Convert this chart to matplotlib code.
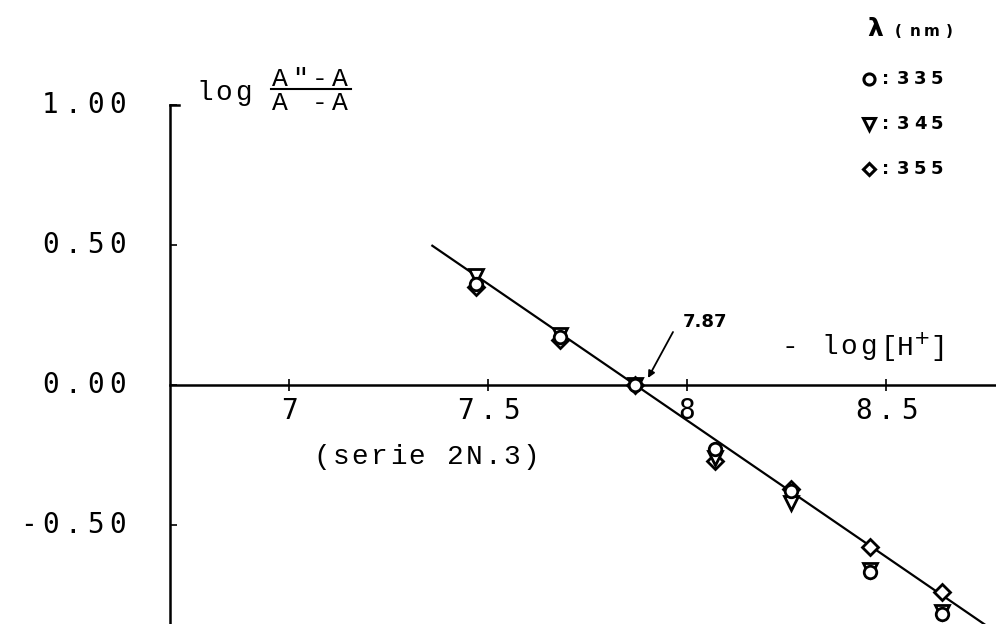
import matplotlib.pyplot as plt
import matplotlib.transforms as mtransforms
import numpy as np

# -log[H+] values and log((A''-A)/(A-A')) for each wavelength
ph = [7.47, 7.68, 7.87, 8.07, 8.26, 8.46, 8.64]
y_335 = [0.36, 0.17, 0.0, -0.23, -0.38, -0.67, -0.82]
y_345 = [0.39, 0.18, 0.0, -0.26, -0.42, -0.66, -0.81]
y_355 = [0.35, 0.16, 0.0, -0.27, -0.37, -0.58, -0.74]

# fitted straight line
pk = 7.87
slope = -0.975
fit_x = [7.36, 8.80]

xticks = [7, 7.5, 8, 8.5]
xtick_labels = ["7", "7.5", "8", "8.5"]
yticks = [1.0, 0.5, 0.0, -0.5]
ytick_labels = ["1.00", "0.50", "0.00", "-0.50"]

wavelengths = ["335", "345", "355"]
key_markers = ["o", "v", "D"]

W, H = 996, 624
mono = "DejaVu Sans Mono"
courier = "Liberation Mono"

fig = plt.figure(figsize=(W / 100, H / 100), dpi=100)
ax = fig.add_axes([0, 0, 1, 1])
ax.set_xlim(6.274, 8.776)
ax.set_ylim(-0.854, 1.375)


def pix(x, y):
    # pixel position measured from the top-left corner -> figure fraction
    return x / W, 1 - y / H


def spaced(s, x, y, pitch, trans=None, ha="left", **kw):
    # typewriter-like text: one glyph every `pitch` pixels
    if trans is None:
        trans = fig.transFigure
        x, y = pix(x, y)
    n = len(s)
    if ha == "left":
        start = 0.0
    elif ha == "right":
        start = -(n - 1) * pitch
    else:
        start = -(n - 1) * pitch / 2
    for i, ch in enumerate(s):
        if ch == " ":
            continue
        t = mtransforms.offset_copy(trans, fig=fig, x=start + i * pitch,
                                    y=0, units="dots")
        ax.text(x, y, ch, transform=t, ha="center", va="center", **kw)


for s in ["top", "right"]:
    ax.spines[s].set_visible(False)
ax.spines["left"].set_position(("data", 6.70))
ax.spines["left"].set_bounds(-0.854, 1.0)
ax.spines["bottom"].set_position(("data", 0.0))
ax.spines["bottom"].set_bounds(6.70, 8.776)
ax.spines["left"].set_linewidth(1.8)
ax.spines["bottom"].set_linewidth(1.8)

ax.set_xticks(xticks)
ax.set_xticklabels([])
ax.tick_params(axis="x", direction="inout", length=8, width=1.2)
ax.set_yticks(yticks)
ax.set_yticklabels([])
ax.tick_params(axis="y", direction="in", length=5, width=1.2)
# corner tick at the top of the vertical axis
ax.plot([6.70, 6.724], [1.0, 1.0], color="black", lw=1.8, clip_on=False)

# tick labels in the plotter font
xlab_tr = mtransforms.blended_transform_factory(ax.transData, fig.transFigure)
for v, lab in zip(xticks, xtick_labels):
    spaced(lab, v, 1 - 411 / H, 23, trans=xlab_tr, ha="center",
           fontfamily=mono, fontsize=20)
ylab_tr = mtransforms.blended_transform_factory(fig.transFigure, ax.transData)
for v, lab in zip(yticks, ytick_labels):
    spaced(lab, 118 / W, v, 22.5, trans=ylab_tr, ha="right",
           fontfamily=mono, fontsize=20)

# regression line
fx = np.array(fit_x)
ax.plot(fx, slope * (fx - pk), color="black", lw=1.6, zorder=2)

mk = dict(mfc="white", mec="black", mew=2.0, ls="none", zorder=3)
ax.plot(ph, y_355, marker="D", ms=8, **mk)
ax.plot(ph, y_345, marker="v", ms=10, **mk)
ax.plot(ph, y_335, marker="o", ms=9, **mk)

# axis titles
spaced("log", 205, 93, 19, fontfamily=courier, fontsize=20)
spaced('A"-A', 280, 79, 20, fontfamily=courier, fontsize=19)
spaced("A -A", 280, 103, 20, fontfamily=courier, fontsize=19)
ax.plot(*zip(pix(271, 89), pix(351, 89)), transform=fig.transFigure,
        color="black", lw=1.5)

spaced("-", 790, 347, 19, fontfamily=courier, fontsize=20)
spaced("log", 830, 347, 19, fontfamily=courier, fontsize=20)
ax.text(*pix(880, 347), r"[H$^{+}$]", transform=fig.transFigure,
        fontfamily=courier, fontsize=20, ha="left", va="center")
spaced("(serie 2N.3)", 322, 457, 19, fontfamily=courier, fontsize=20)

# pK arrow
ax.annotate("7.87", xy=pix(648, 377), xytext=pix(683, 322),
            xycoords="figure fraction", textcoords="figure fraction",
            fontsize=13, fontweight="bold", ha="left", va="center")
ax.annotate("", xy=pix(648, 378), xytext=pix(673, 332),
            xycoords="figure fraction", textcoords="figure fraction",
            arrowprops=dict(arrowstyle="-|>", color="black", lw=1.3,
                            mutation_scale=10, shrinkA=0, shrinkB=0))

# wavelength key
ax.text(*pix(867, 29), "λ", transform=fig.transFigure, fontsize=18,
        fontweight="bold", va="center", ha="left")
spaced("(nm)", 898, 32, 17, fontsize=11, fontweight="bold")
for i, (m, lab) in enumerate(zip(key_markers, wavelengths)):
    yk = 79 + 45 * i
    ax.plot(*pix(869, yk), transform=fig.transFigure, marker=m,
            ms={"o": 8, "v": 8, "D": 6.5}[m], mfc="white", mec="black",
            mew=2.2, ls="none")
    spaced(":" + lab, 886, yk, 17, fontsize=13, fontweight="bold")

fig.savefig("out.png", dpi=100)
